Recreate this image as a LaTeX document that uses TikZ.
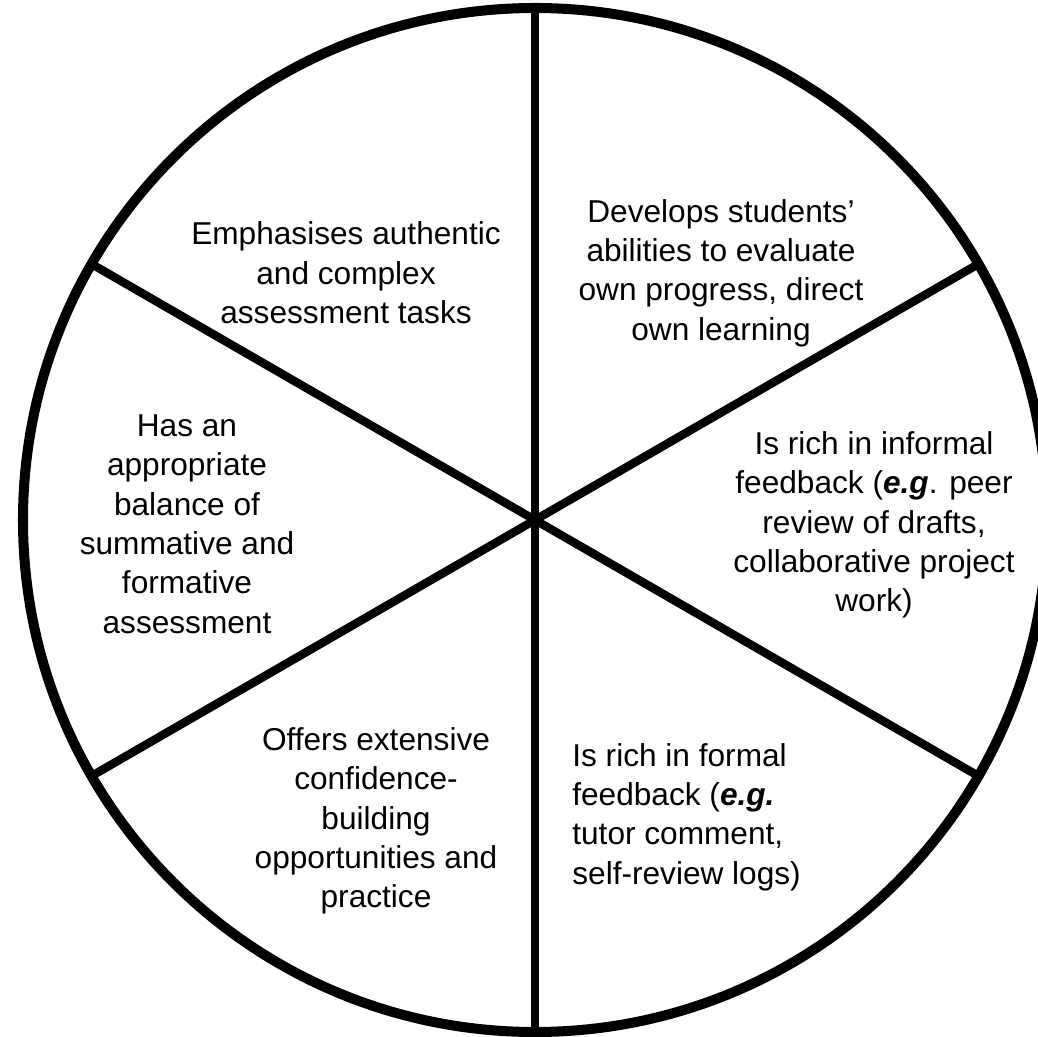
\documentclass[tikz,border=0pt]{standalone}
\usepackage{fontspec}
\setmainfont{Liberation Sans}

\tikzset{
    wheel/.style={line width=5.7pt},
    spoke/.style={line width=4.8pt},
    label/.style={align=center, inner sep=0pt, font=\fontsize{18}{22.4}\selectfont}
}

\begin{document}
\begin{tikzpicture}[x=0.02cm, y=-0.02cm]

        \useasboundingbox (0,0) rectangle (1038,1037);
        \coordinate (hub) at (535,520);

        % Wheel and spokes
        \draw[wheel] (hub) circle [radius=512];
        \draw[spoke] (hub) -- ++(90:512);
        \draw[spoke] (hub) -- ++(270:512);
        \draw[spoke] (hub) -- ++(30:512);
        \draw[spoke] (hub) -- ++(150:512);
        \draw[spoke] (hub) -- ++(210:512);
        \draw[spoke] (hub) -- ++(330:512);

        % Segment texts
        \node[label](authTasks) at (346,273){Emphasises authentic\\and complex\\assessment tasks};
        \node[label](selfEval) at (721,273){Develops students'\\abilities to evaluate\\own progress, direct\\own learning};
        \node[label](balance) at (187,524){Has an\\appropriate\\balance of\\summative and\\formative\\assessment};
        \node[label](informalFb) at (874,525){Is rich in informal\\feedback ({\bfseries\itshape e.g}. peer\\review of drafts,\\collaborative project\\work)};
        \node[label](confidence) at (376,821){Offers extensive\\confidence-\\building\\opportunities and\\practice};
        \node[label, align=left, anchor=west](formalFb) at (572,817){Is rich in formal\\feedback ({\bfseries\itshape e.g.}\\tutor comment,\\self-review logs)};

    \end{tikzpicture}
\end{document}
